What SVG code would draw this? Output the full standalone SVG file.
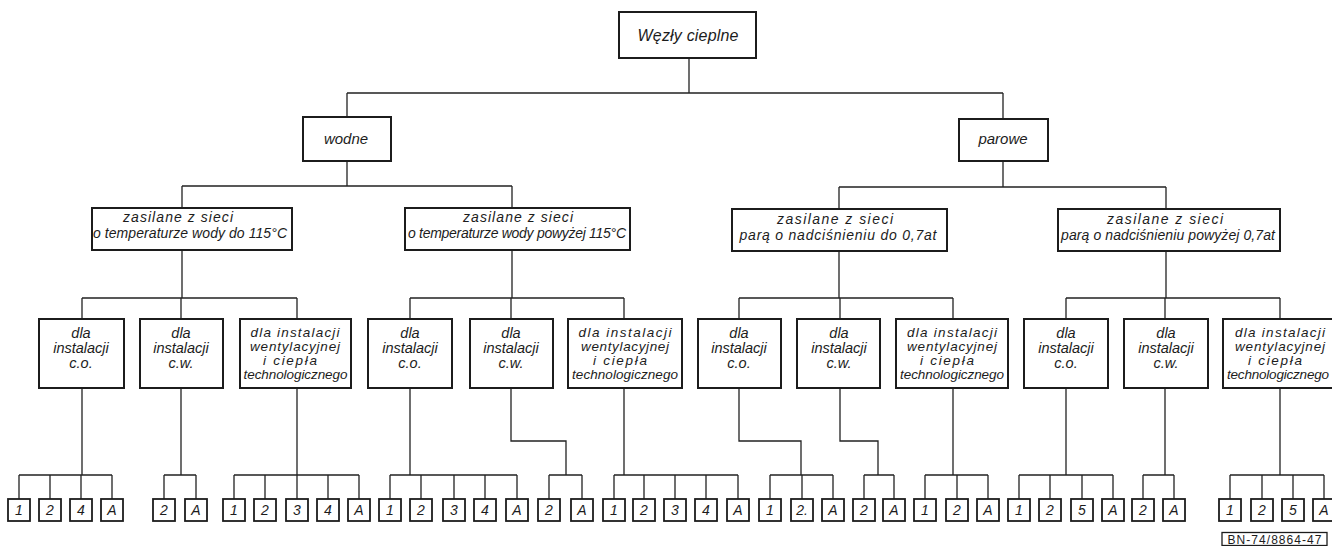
<svg xmlns="http://www.w3.org/2000/svg" width="1332" height="546" viewBox="0 0 1332 546">
<style>
.box{fill:#fff;stroke:#1c1c1c;stroke-width:2}
.leaf{fill:#fff;stroke:#1c1c1c;stroke-width:1.8}
.conn{fill:none;stroke:#222;stroke-width:1.3}
text{font-family:"Liberation Sans",Arial,sans-serif;font-style:italic;fill:#1c1c1c;text-anchor:middle}
.t1{font-size:16px}
.t2{font-size:15px}
.t3{font-size:14px}
.t4{font-size:14.5px}
.t5{font-size:13.5px}
.tl{font-size:14px}
.code{font-style:normal;font-size:12px}
</style>
<rect width="1332" height="546" fill="#fff"/>
<g id="connectors" class="conn">
<path d="M689,58V93M347,93H1003M347,93V117M1003,93V119"/>
<path d="M347,161V186M182,186H512M182,186V208M512,186V208"/>
<path d="M1003,161V187M839,187H1166M839,187V209M1166,187V209"/>
<path d="M182,250V298M82,298H297M82,298V319M181,298V319M297,298V319"/>
<path d="M512,250V298M410,298H624M410,298V319M511,298V319M624,298V319"/>
<path d="M839,251V298M739,298H953M739,298V319M840,298V319M953,298V319"/>
<path d="M1166,251V298M1066,298H1280M1066,298V319M1165,298V319M1280,298V319"/>
<path d="M82,388V475M19,475H112M19,475V499M50,475V499M81,475V499M112,475V499"/>
<path d="M181,388V475M164,475H196M164,475V499M196,475V499"/>
<path d="M297,388V475M234,475H359M234,475V499M265,475V499M297,475V499M328,475V499M359,475V499"/>
<path d="M410,388V475M390,475H517M390,475V499M421,475V499M454,475V499M485,475V499M517,475V499"/>
<path d="M511,388V441H566V475M549,475H582M549,475V499M582,475V499"/>
<path d="M624,388V475M614,475H738M614,475V499M644,475V499M675,475V499M706,475V499M738,475V499"/>
<path d="M739,388V441H801V475M770,475H833M770,475V499M802,475V499M833,475V499"/>
<path d="M840,388V441H878V475M864,475H894M864,475V499M894,475V499"/>
<path d="M953,388V475M925,475H988M925,475V499M957,475V499M988,475V499"/>
<path d="M1066,388V475M1019,475H1113M1019,475V499M1050,475V499M1082,475V499M1113,475V499"/>
<path d="M1165,388V475M1143,475H1174M1143,475V499M1174,475V499"/>
<path d="M1280,388V475M1230,475H1324M1230,475V499M1262,475V499M1293,475V499M1324,475V499"/>
</g>
<g id="n-root"><rect class="box" x="619" y="12" width="137" height="46"/><text class="t1" x="688" y="41" textLength="101" lengthAdjust="spacing">Węzły cieplne</text></g>
<g id="n-wodne"><rect class="box" x="303" y="117" width="88" height="44"/><text class="t2" x="346" y="144">wodne</text></g>
<g id="n-parowe"><rect class="box" x="959" y="119" width="89" height="42"/><text class="t2" x="1003" y="144">parowe</text></g>
<g id="n-w1"><rect class="box" x="92" y="208" width="200" height="42"/><text class="t3" x="178" y="222" textLength="110" lengthAdjust="spacing">zasilane z sieci</text><text class="t3" x="190" y="238" textLength="194" lengthAdjust="spacing">o temperaturze  wody do 115°C</text></g>
<g id="n-w2"><rect class="box" x="405" y="208" width="225" height="42"/><text class="t3" x="518" y="222" textLength="110" lengthAdjust="spacing">zasilane z sieci</text><text class="t3" x="517" y="238" textLength="218" lengthAdjust="spacing">o temperaturze wody powyżej 115°C</text></g>
<g id="n-p1"><rect class="box" x="732" y="209" width="215" height="42"/><text class="t3" x="835" y="224" textLength="116" lengthAdjust="spacing">zasilane z sieci</text><text class="t3" x="838" y="240" textLength="197" lengthAdjust="spacing">parą o nadciśnieniu  do 0,7at</text></g>
<g id="n-p2"><rect class="box" x="1058" y="209" width="222" height="42"/><text class="t3" x="1165" y="224" textLength="116" lengthAdjust="spacing">zasilane z sieci</text><text class="t3" x="1168" y="240" textLength="214" lengthAdjust="spacing">parą o nadciśnieniu powyżej 0,7at</text></g>
<g id="n-w1-co"><rect class="box" x="39" y="319" width="85" height="69"/><text class="t4" x="81" y="338">dla</text><text class="t4" x="81" y="353">instalacji</text><text class="t4" x="81" y="368">c.o.</text></g>
<g id="n-w1-cw"><rect class="box" x="140" y="319" width="83" height="69"/><text class="t4" x="181" y="338">dla</text><text class="t4" x="181" y="353">instalacji</text><text class="t4" x="181" y="368">c.w.</text></g>
<g id="n-w1-wt"><rect class="box" x="240" y="319" width="111" height="69"/><text class="t5" x="295" y="336.5" textLength="89" lengthAdjust="spacing">dla instalacji</text><text class="t5" x="295" y="350.7" textLength="90" lengthAdjust="spacing">wentylacyjnej</text><text class="t5" x="290" y="364.9" textLength="54" lengthAdjust="spacing">i ciepła</text><text class="t5" x="295.5" y="379.2" textLength="104" lengthAdjust="spacing">technologicznego</text></g>
<g id="n-w2-co"><rect class="box" x="368" y="319" width="84" height="69"/><text class="t4" x="410" y="338">dla</text><text class="t4" x="410" y="353">instalacji</text><text class="t4" x="410" y="368">c.o.</text></g>
<g id="n-w2-cw"><rect class="box" x="470" y="319" width="83" height="69"/><text class="t4" x="511" y="338">dla</text><text class="t4" x="511" y="353">instalacji</text><text class="t4" x="511" y="368">c.w.</text></g>
<g id="n-w2-wt"><rect class="box" x="568" y="319" width="114" height="69"/><text class="t5" x="625" y="336.5" textLength="93" lengthAdjust="spacing">dla instalacji</text><text class="t5" x="625" y="350.7" textLength="88" lengthAdjust="spacing">wentylacyjnej</text><text class="t5" x="620" y="364.9" textLength="54" lengthAdjust="spacing">i ciepła</text><text class="t5" x="625" y="379.2" textLength="106" lengthAdjust="spacing">technologicznego</text></g>
<g id="n-p1-co"><rect class="box" x="698" y="319" width="83" height="69"/><text class="t4" x="739" y="338">dla</text><text class="t4" x="739" y="353">instalacji</text><text class="t4" x="739" y="368">c.o.</text></g>
<g id="n-p1-cw"><rect class="box" x="797" y="319" width="83" height="69"/><text class="t4" x="839" y="338">dla</text><text class="t4" x="839" y="353">instalacji</text><text class="t4" x="839" y="368">c.w.</text></g>
<g id="n-p1-wt"><rect class="box" x="896" y="319" width="112" height="69"/><text class="t5" x="952" y="336.5" textLength="90" lengthAdjust="spacing">dla instalacji</text><text class="t5" x="952" y="350.7" textLength="90" lengthAdjust="spacing">wentylacyjnej</text><text class="t5" x="947" y="364.9" textLength="54" lengthAdjust="spacing">i ciepła</text><text class="t5" x="952" y="379.2" textLength="104" lengthAdjust="spacing">technologicznego</text></g>
<g id="n-p2-co"><rect class="box" x="1024" y="319" width="84" height="69"/><text class="t4" x="1066" y="338">dla</text><text class="t4" x="1066" y="353">instalacji</text><text class="t4" x="1066" y="368">c.o.</text></g>
<g id="n-p2-cw"><rect class="box" x="1124" y="319" width="84" height="69"/><text class="t4" x="1166" y="338">dla</text><text class="t4" x="1166" y="353">instalacji</text><text class="t4" x="1166" y="368">c.w.</text></g>
<g id="n-p2-wt"><rect class="box" x="1223" y="319" width="112" height="69"/><text class="t5" x="1280" y="336.5" textLength="90" lengthAdjust="spacing">dla instalacji</text><text class="t5" x="1280" y="350.7" textLength="90" lengthAdjust="spacing">wentylacyjnej</text><text class="t5" x="1275" y="364.9" textLength="54" lengthAdjust="spacing">i ciepła</text><text class="t5" x="1278" y="379.2" textLength="102" lengthAdjust="spacing">technologicznego</text></g>
<g id="leaves">
<g id="g1"><rect class="leaf" x="8" y="499" width="22" height="22"/><text class="tl" x="19" y="515">1</text><rect class="leaf" x="39" y="499" width="22" height="22"/><text class="tl" x="50" y="515">2</text><rect class="leaf" x="70" y="499" width="22" height="22"/><text class="tl" x="81" y="515">4</text><rect class="leaf" x="101" y="499" width="22" height="22"/><text class="tl" x="112" y="515">A</text></g>
<g id="g2"><rect class="leaf" x="153" y="499" width="22" height="22"/><text class="tl" x="164" y="515">2</text><rect class="leaf" x="185" y="499" width="22" height="22"/><text class="tl" x="196" y="515">A</text></g>
<g id="g3"><rect class="leaf" x="223" y="499" width="22" height="22"/><text class="tl" x="234" y="515">1</text><rect class="leaf" x="254" y="499" width="22" height="22"/><text class="tl" x="265" y="515">2</text><rect class="leaf" x="286" y="499" width="22" height="22"/><text class="tl" x="297" y="515">3</text><rect class="leaf" x="317" y="499" width="22" height="22"/><text class="tl" x="328" y="515">4</text><rect class="leaf" x="348" y="499" width="22" height="22"/><text class="tl" x="359" y="515">A</text></g>
<g id="g4"><rect class="leaf" x="379" y="499" width="22" height="22"/><text class="tl" x="390" y="515">1</text><rect class="leaf" x="410" y="499" width="22" height="22"/><text class="tl" x="421" y="515">2</text><rect class="leaf" x="443" y="499" width="22" height="22"/><text class="tl" x="454" y="515">3</text><rect class="leaf" x="474" y="499" width="22" height="22"/><text class="tl" x="485" y="515">4</text><rect class="leaf" x="506" y="499" width="22" height="22"/><text class="tl" x="517" y="515">A</text></g>
<g id="g5"><rect class="leaf" x="538" y="499" width="22" height="22"/><text class="tl" x="549" y="515">2</text><rect class="leaf" x="571" y="499" width="22" height="22"/><text class="tl" x="582" y="515">A</text></g>
<g id="g6"><rect class="leaf" x="603" y="499" width="22" height="22"/><text class="tl" x="614" y="515">1</text><rect class="leaf" x="633" y="499" width="22" height="22"/><text class="tl" x="644" y="515">2</text><rect class="leaf" x="664" y="499" width="22" height="22"/><text class="tl" x="675" y="515">3</text><rect class="leaf" x="695" y="499" width="22" height="22"/><text class="tl" x="706" y="515">4</text><rect class="leaf" x="727" y="499" width="22" height="22"/><text class="tl" x="738" y="515">A</text></g>
<g id="g7"><rect class="leaf" x="759" y="499" width="22" height="22"/><text class="tl" x="770" y="515">1</text><rect class="leaf" x="791" y="499" width="22" height="22"/><text class="tl" x="802" y="515">2.</text><rect class="leaf" x="822" y="499" width="22" height="22"/><text class="tl" x="833" y="515">A</text></g>
<g id="g8"><rect class="leaf" x="853" y="499" width="22" height="22"/><text class="tl" x="864" y="515">2</text><rect class="leaf" x="883" y="499" width="22" height="22"/><text class="tl" x="894" y="515">A</text></g>
<g id="g9"><rect class="leaf" x="914" y="499" width="22" height="22"/><text class="tl" x="925" y="515">1</text><rect class="leaf" x="946" y="499" width="22" height="22"/><text class="tl" x="957" y="515">2</text><rect class="leaf" x="977" y="499" width="22" height="22"/><text class="tl" x="988" y="515">A</text></g>
<g id="g10"><rect class="leaf" x="1008" y="499" width="22" height="22"/><text class="tl" x="1019" y="515">1</text><rect class="leaf" x="1039" y="499" width="22" height="22"/><text class="tl" x="1050" y="515">2</text><rect class="leaf" x="1071" y="499" width="22" height="22"/><text class="tl" x="1082" y="515">5</text><rect class="leaf" x="1102" y="499" width="22" height="22"/><text class="tl" x="1113" y="515">A</text></g>
<g id="g11"><rect class="leaf" x="1132" y="499" width="22" height="22"/><text class="tl" x="1143" y="515">2</text><rect class="leaf" x="1163" y="499" width="22" height="22"/><text class="tl" x="1174" y="515">A</text></g>
<g id="g12"><rect class="leaf" x="1219" y="499" width="22" height="22"/><text class="tl" x="1230" y="515">1</text><rect class="leaf" x="1251" y="499" width="22" height="22"/><text class="tl" x="1262" y="515">2</text><rect class="leaf" x="1282" y="499" width="22" height="22"/><text class="tl" x="1293" y="515">5</text><rect class="leaf" x="1313" y="499" width="22" height="22"/><text class="tl" x="1324" y="515">A</text></g>
</g>
<g id="code-label"><rect x="1222" y="532.5" width="105" height="13" fill="#fff" stroke="#1c1c1c" stroke-width="1.3"/><text class="code" x="1274.5" y="543.8" textLength="94" lengthAdjust="spacing">BN-74/8864-47</text></g>
</svg>
